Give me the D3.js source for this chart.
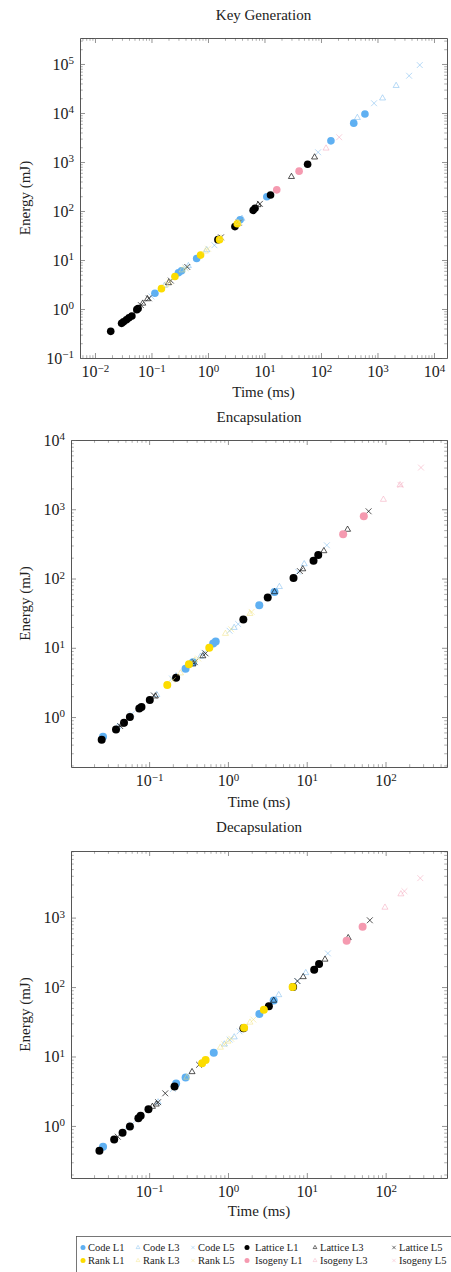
<!DOCTYPE html>
<html>
<head>
<meta charset="utf-8">
<script src="https://cdn.jsdelivr.net/npm/d3@7"></script>
<style>
  body { margin: 0; background: #fff; }
  svg { display: block; font-family: "Liberation Serif", "DejaVu Serif", serif; }
  svg text { font-family: "Liberation Serif", "DejaVu Serif", serif; }
</style>
</head>
<body>
<svg id="chart" width="451" height="1272"></svg>
<script>
// series in legend order
var seriesNames = ["Code L1", "Code L3", "Code L5", "Lattice L1", "Lattice L3", "Lattice L5",
                   "Rank L1", "Rank L3", "Rank L5", "Isogeny L1", "Isogeny L3", "Isogeny L5"];

// [time (ms), energy (mJ)]
var keygenCodeL1 = [[0.115,2.1],[0.3,5.5],[0.34,6.0],[0.63,10.7],[3.7,66],[11,195],[150,2700],[380,6200],[600,9550]];
var keygenCodeL3 = [[0.17,3.0],[0.45,7.6],[0.95,16],[4.0,70],[440,8000],[1230,20000],[2140,36000]];
var keygenCodeL5 = [[0.1,1.8],[0.4,7.0],[1.3,20],[89,1580],[870,15800],[3630,57500],[5600,95000]];
var keygenLatticeL1 = [[0.019,0.35],[0.0296,0.51],[0.032,0.55],[0.036,0.6],[0.04,0.66],[0.045,0.72],[0.055,0.97],[0.058,1.02],[1.5,26],[3.0,48],[6.3,103],[6.8,114],[12.8,212],[58,900]];
var keygenLatticeL3 = [[0.07,1.3],[0.085,1.6],[0.2,3.4],[1.6,27],[3.2,55],[7.7,133],[30,500],[77,1250]];
var keygenLatticeL5 = [[0.065,1.2],[0.09,1.65],[0.22,3.8],[0.43,7.2],[1.7,29],[3.5,58],[8.3,140]];
var keygenRankL1 = [[0.15,2.6],[0.26,4.6],[0.74,12.6],[1.6,26],[3.3,55]];
var keygenRankL3 = [[0.18,3.1],[0.35,6.2],[0.9,15],[1.7,28],[3.4,58]];
var keygenRankL5 = [[0.21,3.6],[0.4,6.8],[1.0,17],[3.6,60]];
var keygenIsogenyL1 = [[16.5,270],[41,650]];
var keygenIsogenyL3 = [[123,1900]];
var keygenIsogenyL5 = [[210,3200]];

var encapCodeL1 = [[0.026,0.52],[0.29,5.0],[0.36,6.2],[0.65,11.5],[0.7,12.3],[2.5,41],[3.9,64]];
var encapCodeL3 = [[0.04,0.72],[0.125,2.1],[0.22,3.9],[0.45,7.5],[1.2,19.5],[4.5,76],[9.3,162]];
var encapCodeL5 = [[0.06,1.1],[0.195,3.6],[0.5,8.5],[1.05,17.6],[1.35,22],[7.8,125],[18,302]];
var encapLatticeL1 = [[0.025,0.47],[0.038,0.66],[0.048,0.83],[0.057,1.0],[0.075,1.33],[0.08,1.4],[0.102,1.76],[0.22,3.7],[1.57,25.7],[3.2,53],[6.8,102],[12.2,180],[14,218]];
var encapLatticeL3 = [[0.045,0.78],[0.12,2.0],[0.36,5.8],[0.48,7.6],[3.9,64],[8.9,137],[16.5,250],[33,510]];
var encapLatticeL5 = [[0.043,0.74],[0.115,2.05],[0.38,6.2],[0.52,8.3],[8.2,128],[61,935]];
var encapRankL1 = [[0.17,2.9],[0.32,5.8],[0.58,10]];
var encapRankL3 = [[0.25,4.3],[0.38,6.6],[0.93,16],[1.9,31]];
var encapRankL5 = [[0.2,3.4],[0.42,7],[1.1,18.5],[2.0,33]];
var encapIsogenyL1 = [[29,436],[53,795]];
var encapIsogenyL3 = [[94,1380],[153,2240]];
var encapIsogenyL5 = [[155,2250],[282,4000]];

var decapCodeL1 = [[0.026,0.5],[0.22,4.1],[0.29,5.0],[0.66,11.3],[2.5,41],[3.8,64]];
var decapCodeL3 = [[0.055,0.97],[0.13,2.2],[0.9,15],[1.2,19],[4.4,77],[9.7,160]];
var decapCodeL5 = [[0.06,1.05],[0.2,3.4],[1.05,17.5],[1.4,23],[7.6,122],[18.5,305]];
var decapLatticeL1 = [[0.0234,0.44],[0.036,0.64],[0.046,0.8],[0.057,0.98],[0.073,1.29],[0.078,1.4],[0.098,1.74],[0.21,3.7],[1.57,25.5],[3.3,53],[6.7,100],[12.4,178],[14.3,215]];
var decapLatticeL3 = [[0.11,1.9],[0.123,2.05],[0.35,6.0],[3.8,64],[9.0,140],[17,250],[33.5,510]];
var decapLatticeL5 = [[0.04,0.7],[0.13,2.2],[0.16,2.95],[0.43,7.6],[1.6,26],[7.6,122],[63,915]];
var decapRankL1 = [[0.47,8.0],[0.52,8.9],[1.6,26],[2.85,47],[6.6,100]];
var decapRankL3 = [[0.3,5.0],[0.8,13.5],[1.0,16.5],[1.9,31]];
var decapRankL5 = [[0.9,15],[1.1,18],[2.1,34]];
var decapIsogenyL1 = [[32,465],[51,740]];
var decapIsogenyL3 = [[98,1400],[156,2180]];
var decapIsogenyL5 = [[173,2400],[275,3700]];

// axis ranges
var keygenTime = [0.00543, 17000], keygenEnergy = [0.1, 339000];
var encapTime = [0.0102, 603], encapEnergy = [0.19, 10000];
var decapTime = [0.0102, 600], decapEnergy = [0.178, 9100];

var svg = d3.select("#chart");

// marker style per series (same order as seriesNames)
var styles = [
  {shape: "circle", color: "#5fb0f2", op: 1},
  {shape: "tri", color: "#72b6ee", op: 0.6},
  {shape: "x", color: "#72b6ee", op: 0.6},
  {shape: "circle", color: "#000", op: 1},
  {shape: "tri", color: "#111", op: 0.85},
  {shape: "x", color: "#111", op: 0.85},
  {shape: "circle", color: "#fcdc00", op: 1},
  {shape: "tri", color: "#f2e27a", op: 0.6},
  {shape: "x", color: "#f2e27a", op: 0.6},
  {shape: "circle", color: "#f59ab0", op: 1},
  {shape: "tri", color: "#f3a3b8", op: 0.6},
  {shape: "x", color: "#f3a3b8", op: 0.6}
];

function marker(sel, st, r, small) {
  if (st.shape == "circle") {
    sel.append("circle").attr("r", r).attr("fill", st.color).attr("opacity", st.op);
  } else {
    var sym = st.shape == "tri" ? d3.symbolTriangle2 : d3.symbolX;
    var size = st.shape == "tri" ? (small ? 10 : 26) : (small ? 9 : 24);
    sel.append("path").attr("d", d3.symbol(sym, size)())
      .attr("fill", "none").attr("stroke", st.color).attr("stroke-width", small ? 0.7 : 0.85)
      .attr("opacity", st.op);
  }
}

function sup(n) { return n < 0 ? "\u2212" + (-n) : "" + n; }

function powLabels(axisG) {
  axisG.selectAll(".tick text").each(function(d) {
    var t = d3.select(this).text(null);
    t.append("tspan").text("10");
    t.append("tspan").attr("dy", "-0.48em").attr("font-size", "11px")
      .text(sup(Math.round(Math.log10(d))));
  });
}

function panel(p) {
  var x = d3.scaleLog().domain(p.xd).range([p.left, p.right]);
  var y = d3.scaleLog().domain(p.yd).range([p.bottom, p.top]);
  var g = svg.append("g");
  var isPow = function(v) { return Math.abs(Math.log10(v) - Math.round(Math.log10(v))) < 1e-9; };
  var xMinor = x.ticks(30).filter(function(v) { return !isPow(v); });
  var yMinor = y.ticks(30).filter(function(v) { return !isPow(v); });
  var xMajor = x.ticks(30).filter(isPow);
  var yMajor = y.ticks(30).filter(isPow);

  // minor ticks on all four sides
  [[d3.axisBottom(x), "translate(0," + p.bottom + ")", xMinor],
   [d3.axisTop(x), "translate(0," + p.top + ")", xMinor],
   [d3.axisLeft(y), "translate(" + p.left + ",0)", yMinor],
   [d3.axisRight(y), "translate(" + p.right + ",0)", yMinor]].forEach(function(a) {
    var ag = g.append("g").attr("transform", a[1])
      .call(a[0].tickValues(a[2]).tickSizeInner(-2.8).tickSizeOuter(0).tickFormat(""));
    ag.select(".domain").remove();
    ag.selectAll("line").attr("stroke", "#777").attr("stroke-width", 0.6);
  });

  var xb = g.append("g").attr("transform", "translate(0," + p.bottom + ")")
    .call(d3.axisBottom(x).tickValues(xMajor).tickSizeInner(-5).tickSizeOuter(0).tickPadding(8));
  var xt = g.append("g").attr("transform", "translate(0," + p.top + ")")
    .call(d3.axisTop(x).tickValues(xMajor).tickSizeInner(-5).tickSizeOuter(0).tickFormat(""));
  var yl = g.append("g").attr("transform", "translate(" + p.left + ",0)")
    .call(d3.axisLeft(y).tickValues(yMajor).tickSizeInner(-5).tickSizeOuter(0).tickPadding(6));
  var yr = g.append("g").attr("transform", "translate(" + p.right + ",0)")
    .call(d3.axisRight(y).tickValues(yMajor).tickSizeInner(-5).tickSizeOuter(0).tickFormat(""));
  [xb, xt, yl, yr].forEach(function(a) {
    a.attr("font-family", "Liberation Serif, serif").attr("font-size", null);
    a.select(".domain").attr("stroke", "#444").attr("stroke-width", 0.9);
    a.selectAll("line").attr("stroke", "#666").attr("stroke-width", 0.7);
    a.selectAll("text").attr("font-family", "Liberation Serif, serif")
      .attr("font-size", "16px").attr("fill", "#222");
  });
  powLabels(xb);
  powLabels(yl);

  var plot = g.append("g");
  p.data.forEach(function(pts, i) {
    var st = styles[i];
    plot.append("g").selectAll("g").data(pts).enter().append("g")
      .attr("transform", function(d) { return "translate(" + x(d[0]) + "," + y(d[1]) + ")"; })
      .each(function() { marker(d3.select(this), st, p.r, false); });
  });

  g.append("text").attr("x", (p.left + p.right) / 2).attr("y", p.titleY)
    .attr("text-anchor", "middle").attr("font-size", "15px").attr("fill", "#222").text(p.title);
  g.append("text").attr("x", (p.left + p.right) / 2).attr("y", p.xLabelY)
    .attr("text-anchor", "middle").attr("font-size", "15px").attr("fill", "#222").text("Time (ms)");
  g.append("text")
    .attr("transform", "translate(25," + ((p.top + p.bottom) / 2) + ") rotate(-90)")
    .attr("dy", "0.35em").attr("text-anchor", "middle").attr("font-size", "15px")
    .attr("fill", "#222").text("Energy (mJ)");
}

panel({title: "Key Generation", xd: keygenTime, yd: keygenEnergy,
  left: 80, right: 447, top: 38, bottom: 358, titleY: 19.5, xLabelY: 397, r: 3.8,
  data: [keygenCodeL1, keygenCodeL3, keygenCodeL5, keygenLatticeL1, keygenLatticeL3, keygenLatticeL5,
         keygenRankL1, keygenRankL3, keygenRankL5, keygenIsogenyL1, keygenIsogenyL3, keygenIsogenyL5]});
panel({title: "Encapsulation", xd: encapTime, yd: encapEnergy,
  left: 71, right: 447, top: 440, bottom: 767, titleY: 421.5, xLabelY: 806.5, r: 4,
  data: [encapCodeL1, encapCodeL3, encapCodeL5, encapLatticeL1, encapLatticeL3, encapLatticeL5,
         encapRankL1, encapRankL3, encapRankL5, encapIsogenyL1, encapIsogenyL3, encapIsogenyL5]});
panel({title: "Decapsulation", xd: decapTime, yd: decapEnergy,
  left: 71, right: 447, top: 851, bottom: 1178, titleY: 831.5, xLabelY: 1216, r: 4,
  data: [decapCodeL1, decapCodeL3, decapCodeL5, decapLatticeL1, decapLatticeL3, decapLatticeL5,
         decapRankL1, decapRankL3, decapRankL5, decapIsogenyL1, decapIsogenyL3, decapIsogenyL5]});

// legend, 6 columns x 2 rows
var legCols = [83, 138, 193, 247, 315, 394];
var leg = svg.append("g");
leg.append("rect").attr("x", 76.5).attr("y", 1236.5).attr("width", 380).attr("height", 40)
  .attr("fill", "#fff").attr("stroke", "#555").attr("stroke-width", 0.8);
seriesNames.forEach(function(name, i) {
  var cx = legCols[i % 6], cy = i < 6 ? 1247.5 : 1260.5;
  var e = leg.append("g").attr("transform", "translate(" + cx + "," + cy + ")");
  marker(e, styles[i], 2.5, true);
  leg.append("text").attr("x", cx + (i % 6 == 3 ? 8 : 5)).attr("y", cy).attr("dy", "0.35em")
    .attr("font-size", "10.5px").attr("fill", "#222").text(name);
});
</script>
</body>
</html>
